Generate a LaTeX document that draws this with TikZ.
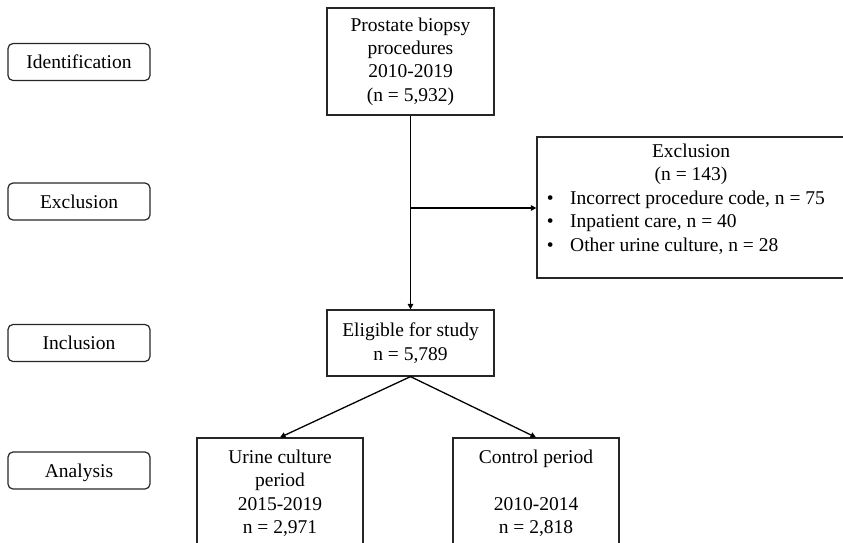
\documentclass[tikz,border=0pt]{standalone}
\usepackage{fontspec}
\setmainfont{Liberation Serif}
\usetikzlibrary{arrows.meta}
\begin{document}
\begin{tikzpicture}[x=1pt,y=-1pt,
  every node/.style={font=\fontsize{19.5}{23.3}\selectfont},
  box/.style={draw=black!85, line width=1.2pt, rectangle, inner sep=0pt, align=center},
  stage/.style={draw=black!85, line width=1.2pt, rounded corners=5pt, minimum width=142pt,
    minimum height=37pt, inner sep=0pt, text height=13.5pt, text depth=0pt},
  txt/.style={inner sep=0pt, align=center},
  arr/.style={line width=1.3pt, black, -{Triangle[length=5.5pt,width=5.5pt]}}]
\useasboundingbox[clip] (0,0) rectangle (843,542);
% stage labels
\node[stage] (s1) at (79,62) {Identification};
\node[stage] (s2) at (79,201.5) {Exclusion};
\node[stage] (s3) at (79,343) {Inclusion};
\node[stage] (s4) at (79,470.5) {Analysis};
% main boxes
\node[box, minimum width=167pt, minimum height=107pt] (top) at (410.5,61.5)
  {Prostate biopsy\\procedures\\2010-2019\\(n = 5,932)};
\node[box, minimum width=323pt, minimum height=141pt] (excl) at (698.5,207.5) {};
\node[txt, anchor=north] (exct) at (691,143.6) {Exclusion\\(n = 143)};
\node[txt, anchor=north west] (excl-list) at (546.6,187.9)
  {\begin{tabular}{@{}l@{\hspace{16.6pt}}l@{}}
   \textbullet & Incorrect procedure code, n = 75\\
   \textbullet & Inpatient care, n = 40\\
   \textbullet & Other urine culture, n = 28
   \end{tabular}};
\node[box, minimum width=167pt, minimum height=66pt] (elig) at (410.5,343)
  {Eligible for study\\n = 5,789};
\node[box, minimum width=166pt, minimum height=132pt] (lb) at (280,504) {};
\node[txt, anchor=north] (lbt) at (280,449.8)
  {Urine culture\\period\\2015-2019\\n = 2,971};
\node[box, minimum width=166pt, minimum height=132pt] (rb) at (536,504) {};
\node[txt, anchor=north] (rbt) at (536,449.8)
  {Control period\\[23.3pt]2010-2014\\n = 2,818};
% connectors
\coordinate (j) at (410.5,208);
\draw[arr] (top.south) -- (elig.north);
\draw[arr] (j) -- (j -| excl.west);
\draw[arr] (elig.south) -- (lb.north);
\draw[arr] (elig.south) -- (rb.north);
\end{tikzpicture}
\end{document}
